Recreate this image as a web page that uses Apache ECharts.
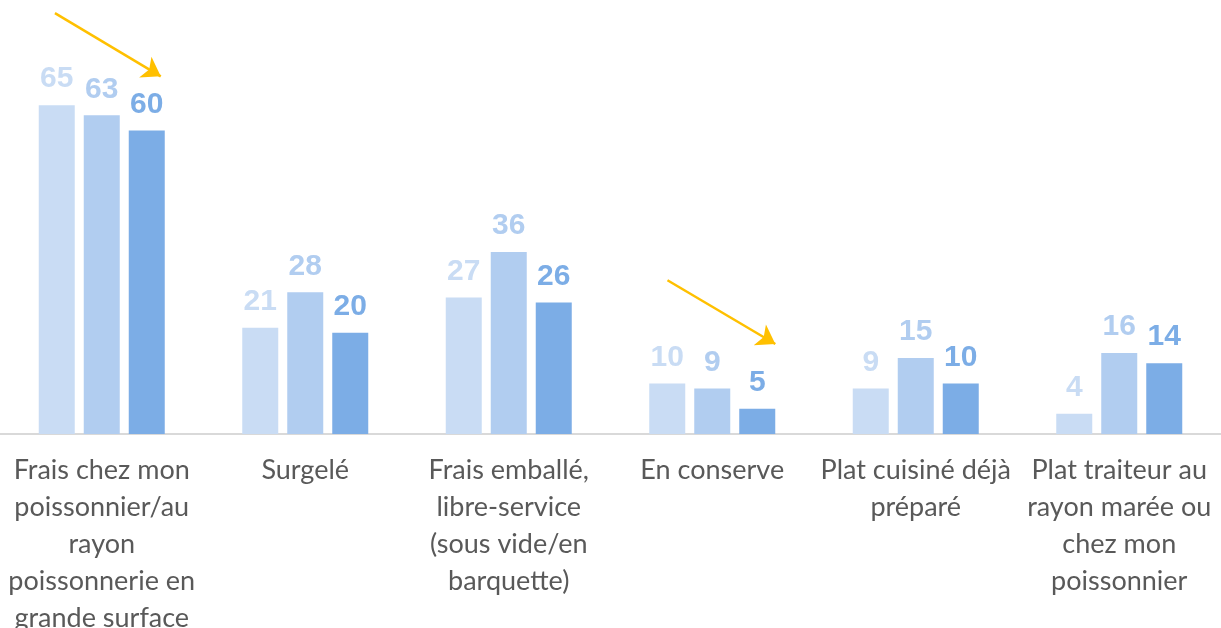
<!DOCTYPE html>
<html>
<head>
<meta charset="utf-8">
<script src="https://cdn.jsdelivr.net/npm/echarts@6/dist/echarts.min.js"></script>
<style>
  html, body { margin: 0; padding: 0; background: #fff; }
  #chart { width: 1221px; height: 628px; }
</style>
</head>
<body>
<div id="chart"></div>
<script>
const categories = [
  'Frais chez mon\npoissonnier/au\nrayon\npoissonnerie en\ngrande surface',
  'Surgelé',
  'Frais emballé,\nlibre-service\n(sous vide/en\nbarquette)',
  'En conserve',
  'Plat cuisiné déjà\npréparé',
  'Plat traiteur au\nrayon marée ou\nchez mon\npoissonnier'
]
const series1 = [65, 21, 27, 10, 9, 4]
const series2 = [63, 28, 36, 9, 15, 16]
const series3 = [60, 20, 26, 5, 10, 14]
const colors = ['#C9DCF4', '#B1CDF0', '#7CADE6']

// trend arrows, in (category position, value) units
const arrows = [
  [[0.27, 83.2], [0.79, 70.7]],
  [[3.28, 30.4], [3.81, 17.8]]
]

const chart = echarts.init(document.getElementById('chart'))

const barSeries = [series1, series2, series3].map((data, i) => ({
  type: 'bar',
  data: data,
  barWidth: 36,
  barGap: '25%',
  itemStyle: { color: colors[i] },
  label: {
    show: true,
    position: 'top',
    distance: 11,
    color: colors[i],
    fontFamily: 'Liberation Sans, Arial, sans-serif',
    fontWeight: 'bold',
    fontSize: 30
  }
}))

chart.setOption({
  animation: false,
  grid: { left: 0, right: 0, top: 4, bottom: 194, outerBoundsMode: 'none', containLabel: false },
  xAxis: [
    {
      type: 'category',
      data: categories,
      axisTick: { show: false },
      axisLine: { lineStyle: { color: '#D9D9D9', width: 2 } },
      axisLabel: {
        interval: 0,
        margin: 18,
        color: '#595959',
        fontFamily: 'Lato, Open Sans, sans-serif',
        fontSize: 27,
        lineHeight: 37
      }
    },
    { type: 'value', min: 0, max: 6, show: false }
  ],
  yAxis: { type: 'value', min: 0, max: 85, show: false },
  series: [
    ...barSeries,
    {
      type: 'line',
      xAxisIndex: 1,
      data: [],
      markLine: {
        silent: true,
        symbol: ['none', 'arrow'],
        symbolSize: 18,
        label: { show: false },
        lineStyle: { color: '#FFC000', width: 2.5, type: 'solid' },
        data: arrows.map(a => [{ coord: a[0] }, { coord: a[1] }])
      }
    }
  ]
})
</script>
</body>
</html>
